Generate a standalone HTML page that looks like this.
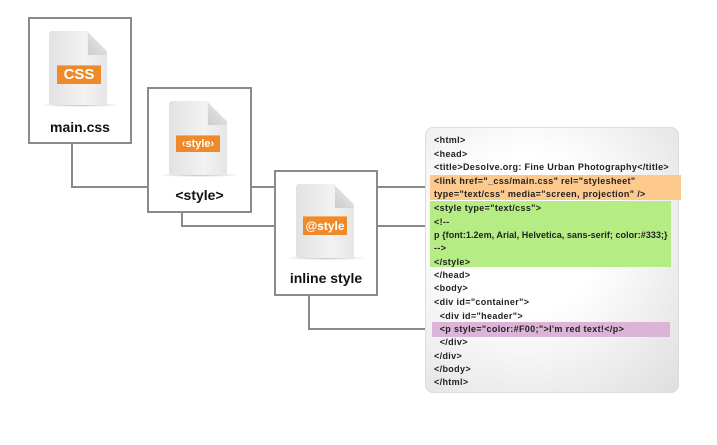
<!DOCTYPE html>
<html><head><style>
body{margin:0;width:717px;height:445px;background:#fff;position:relative;font-family:"Liberation Sans",sans-serif;overflow:hidden}
.box{position:absolute;border:2px solid #8a8a8a;background:#fff;box-sizing:border-box}
.lbl{position:absolute;width:100%;text-align:center;font-weight:bold;font-size:14px;color:#111}
.doc{position:absolute;width:58px;height:74px;background:linear-gradient(90deg,#e2e2e2,#f2f2f2 60%,#e6e6e6);clip-path:polygon(0 4%,2% 0,68% 0,100% 32%,100% 100%,0 100%);border-radius:3px}
.fold{position:absolute;width:19px;height:24px;background:linear-gradient(225deg,#fff 45%,#ddd 50%,#ccc)}
.shadow{position:absolute;height:4px;background:radial-gradient(ellipse,#bbb,transparent 70%)}
.tag{position:absolute;background:#ee8a2a;color:#fff;font-weight:bold;text-align:center;border-top:1px solid #f6b26b}
.ln{position:absolute;background:#8a8a8a}
.code{position:absolute;left:425px;top:127px;width:254px;height:266px;border-radius:8px;background:radial-gradient(ellipse at 40% 40%,#fff 35%,#dedede 100%);border:1px solid #ddd;box-sizing:border-box}
.hl{position:absolute}
.t{position:absolute;left:434px;font-size:9px;color:#222;font-weight:bold;white-space:pre;letter-spacing:0.35px}
</style></head><body>
<div class="ln" style="left:71px;top:143px;width:2px;height:45px"></div>
<div class="ln" style="left:71px;top:186px;width:77px;height:2px"></div>
<div class="ln" style="left:250px;top:186px;width:25px;height:2px"></div>
<div class="ln" style="left:376px;top:186px;width:50px;height:2px"></div>
<div class="ln" style="left:181px;top:211px;width:2px;height:16px"></div>
<div class="ln" style="left:181px;top:225px;width:94px;height:2px"></div>
<div class="ln" style="left:376px;top:225px;width:50px;height:2px"></div>
<div class="ln" style="left:308px;top:294px;width:2px;height:36px"></div>
<div class="ln" style="left:308px;top:328px;width:118px;height:2px"></div>

<div class="box" style="left:28px;top:17px;width:104px;height:127px">
 <div class="shadow" style="left:8px;top:84px;width:84px"></div>
 <div class="doc" style="left:19px;top:12px"></div>
 <div class="fold" style="left:58px;top:12px"></div>
 <div class="tag" style="left:27px;top:46px;width:44px;height:18px;font-size:15px;line-height:18px">CSS</div>
 <div class="lbl" style="top:100px">main.css</div>
</div>
<div class="box" style="left:147px;top:87px;width:105px;height:126px">
 <div class="shadow" style="left:8px;top:84px;width:84px"></div>
 <div class="doc" style="left:20px;top:12px"></div>
 <div class="fold" style="left:59px;top:12px"></div>
 <div class="tag" style="left:27px;top:46px;width:44px;height:16px;font-size:11px;line-height:16px">‹style›</div>
 <div class="lbl" style="top:98px">&lt;style&gt;</div>
</div>
<div class="box" style="left:274px;top:170px;width:104px;height:126px">
 <div class="shadow" style="left:8px;top:84px;width:84px"></div>
 <div class="doc" style="left:20px;top:12px"></div>
 <div class="fold" style="left:59px;top:12px"></div>
 <div class="tag" style="left:27px;top:44px;width:44px;height:18px;font-size:12px;line-height:18px">@style</div>
 <div class="lbl" style="top:98px">inline style</div>
</div>

<div class="code"></div>
<div class="hl" style="left:430px;top:175px;width:251px;height:25px;background:#fdc98c"></div>
<div class="hl" style="left:430px;top:201px;width:241px;height:66px;background:#b5ec84"></div>
<div class="hl" style="left:432px;top:322px;width:238px;height:15px;background:#dcb4d8"></div>

<div class="t" style="top:135px">&lt;html&gt;</div>
<div class="t" style="top:149px">&lt;head&gt;</div>
<div class="t" style="top:162px">&lt;title&gt;Desolve.org: Fine Urban Photography&lt;/title&gt;</div>
<div class="t" style="top:176px">&lt;link href="_css/main.css" rel="stylesheet"</div>
<div class="t" style="top:189px">type="text/css" media="screen, projection" /&gt;</div>
<div class="t" style="top:203px">&lt;style type="text/css"&gt;</div>
<div class="t" style="top:217px">&lt;!--</div>
<div class="t" style="top:230px;letter-spacing:0.05px">p {font:1.2em, Arial, Helvetica, sans-serif; color:#333;}</div>
<div class="t" style="top:243px">--&gt;</div>
<div class="t" style="top:257px">&lt;/style&gt;</div>
<div class="t" style="top:270px">&lt;/head&gt;</div>
<div class="t" style="top:283px">&lt;body&gt;</div>
<div class="t" style="top:297px">&lt;div id="container"&gt;</div>
<div class="t" style="top:311px">  &lt;div id="header"&gt;</div>
<div class="t" style="top:324px">  &lt;p style="color:#F00;"&gt;I'm red text!&lt;/p&gt;</div>
<div class="t" style="top:337px">  &lt;/div&gt;</div>
<div class="t" style="top:351px">&lt;/div&gt;</div>
<div class="t" style="top:364px">&lt;/body&gt;</div>
<div class="t" style="top:377px">&lt;/html&gt;</div>
</body></html>
